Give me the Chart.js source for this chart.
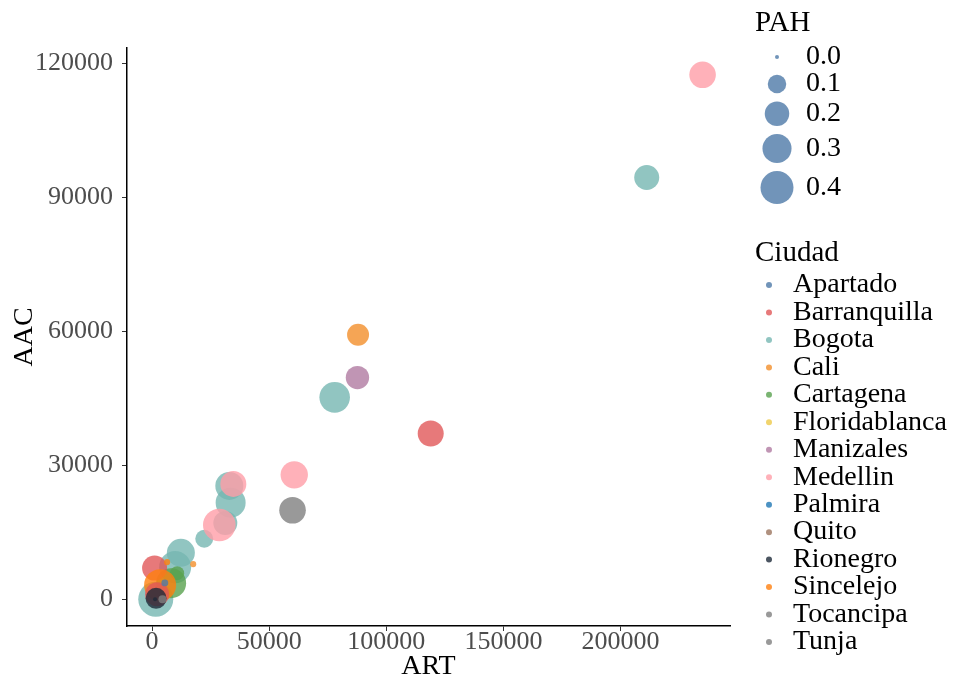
<!DOCTYPE html>
<html>
<head>
<meta charset="utf-8">
<script src="https://cdn.jsdelivr.net/npm/chart.js@4"></script>
<style>
  html, body { margin: 0; padding: 0; background: #fff; }
</style>
</head>
<body>
<canvas id="bubbleChart" width="970" height="679"></canvas>
<script>
// cities in legend order, with base colours
const cities = ["Apartado", "Barranquilla", "Bogota", "Cali", "Cartagena", "Floridablanca", "Manizales",
  "Medellin", "Palmira", "Quito", "Rionegro", "Sincelejo", "Tocancipa", "Tunja"];
const cityColors = ["#4E79A7", "#E15759", "#76B7B2", "#F28E2B", "#59A14F", "#EDC948", "#B07AA1",
  "#FF9DA7", "#1F77B4", "#9C755F", "#1E2B3A", "#FF7F0E", "#7F7F7F", "#7F7F7F"];

// one entry per point, in drawing order (later rows on top)
const pointCity = ["Bogota", "Bogota", "Bogota", "Bogota", "Bogota", "Bogota", "Bogota", "Bogota", "Bogota",
  "Cartagena", "Cartagena", "Medellin", "Medellin", "Medellin", "Medellin",
  "Barranquilla", "Sincelejo", "Barranquilla", "Sincelejo", "Cali", "Cali", "Manizales", "Barranquilla",
  "Tocancipa", "Apartado", "Rionegro", "Rionegro", "Tunja"];
const art = [1580, 9850, 12290, 22270, 31270, 33540, 32980, 77950, 211150,
  8140, 10710, 28700, 34690, 60690, 235000,
  1070, 3430, 2140, 6420, 17560, 87930, 87670, 118940,
  59960, 5440, 1710, 1280, 4450];
const aac = [0, 7190, 10400, 13550, 17080, 21640, 25390, 45230, 94490,
  3600, 5840, 16630, 25840, 27860, 117500,
  6970, 3150, 1120, 8310, 7860, 59250, 49660, 37140,
  19930, 3660, 200, 0, 0];
const pah = [0.458, 0.374, 0.275, 0.093, 0.19, 0.322, 0.275, 0.337, 0.21,
  0.322, 0.048, 0.39, 0.231, 0.261, 0.243,
  0.21, 0.374, 0.19, 0.002, 0.002, 0.154, 0.179, 0.231,
  0.243, 0.004, 0.138, 0.0, 0.008];

const xTicks = [0, 50000, 100000, 150000, 200000];
const yTicks = [0, 30000, 60000, 90000, 120000];
const pahBreaks = [0.0, 0.1, 0.2, 0.3, 0.4];

const ALPHA = 0.8;
function rgba(hex, a) {
  const n = parseInt(hex.slice(1), 16);
  return "rgba(" + (n >> 16) + "," + ((n >> 8) & 255) + "," + (n & 255) + "," + a + ")";
}
function colorOf(city) {
  return rgba(cityColors[cities.indexOf(city)], ALPHA);
}
// size scale: radius grows with sqrt of PAH
function sizeOf(v) {
  return 2 + 22.9 * Math.sqrt(v);
}

const serif = '"Liberation Serif", "Times New Roman", serif';
Chart.defaults.font.family = serif;

// side legends: PAH sizes and Ciudad colours
const sideLegend = {
  id: "sideLegend",
  afterDraw(chart) {
    const ctx = chart.ctx;
    ctx.save();
    ctx.textBaseline = "middle";
    ctx.textAlign = "left";
    ctx.fillStyle = "#000";
    ctx.font = "29px " + serif;
    ctx.fillText("PAH", 755, 23);

    let y = 57 - 13.5;
    ctx.font = "28px " + serif;
    pahBreaks.forEach(function (b) {
      const r = sizeOf(b);
      const h = Math.max(27, 2 * r + 8);
      const cy = y + h / 2;
      ctx.beginPath();
      ctx.arc(777, cy, r, 0, Math.PI * 2);
      ctx.fillStyle = rgba(cityColors[0], ALPHA);
      ctx.fill();
      ctx.fillStyle = "#000";
      ctx.fillText(b.toFixed(1), 806, cy);
      y += h;
    });

    ctx.font = "29px " + serif;
    ctx.fillText("Ciudad", 755, 253);
    ctx.font = "28px " + serif;
    cities.forEach(function (c, i) {
      const cy = 285 + i * 27.46;
      ctx.beginPath();
      ctx.arc(769, cy, 3, 0, Math.PI * 2);
      ctx.fillStyle = colorOf(c);
      ctx.fill();
      ctx.fillStyle = "#000";
      ctx.fillText(c, 793, cy);
    });
    ctx.restore();
  }
};

const tickFont = { size: 26, family: serif };
const ctx = document.getElementById("bubbleChart").getContext("2d");
new Chart(ctx, {
  type: "bubble",
  data: {
    datasets: [{
      data: art.map(function (x, i) { return { x: x, y: aac[i], r: sizeOf(pah[i]) }; }),
      backgroundColor: pointCity.map(colorOf),
      borderWidth: 0,
    }],
  },
  options: {
    responsive: false,
    animation: false,
    events: [],
    layout: { padding: { top: 48, right: 240, left: 0, bottom: 0 } },
    plugins: { legend: { display: false }, tooltip: { enabled: false } },
    scales: {
      x: {
        type: "linear",
        min: -10700,
        max: 246700,
        afterBuildTicks: function (s) { s.ticks = xTicks.map(function (v) { return { value: v }; }); },
        afterFit: function (s) { s.height = 53; },
        ticks: { font: tickFont, color: "#4D4D4D", padding: -4, autoSkip: false, maxRotation: 0,
          callback: function (v) { return String(v); } },
        grid: { drawOnChartArea: false, drawTicks: true, tickLength: 5, color: "#333" },
        border: { display: true, color: "#000", width: 1.5 },
        title: { display: true, text: "ART", color: "#000", font: { size: 28, family: serif },
          padding: { top: 0, bottom: -4 } },
      },
      y: {
        type: "linear",
        min: -6000,
        max: 123500,
        afterBuildTicks: function (s) { s.ticks = yTicks.map(function (v) { return { value: v }; }); },
        afterFit: function (s) { s.width = 127; },
        ticks: { font: tickFont, color: "#4D4D4D", padding: 9, autoSkip: false,
          callback: function (v) { return String(v); } },
        grid: { drawOnChartArea: false, drawTicks: true, tickLength: 5, color: "#333" },
        border: { display: true, color: "#000", width: 1.5 },
        title: { display: true, text: "AAC", color: "#000", font: { size: 28, family: serif },
          padding: { top: 8, bottom: 0 } },
      },
    },
  },
  plugins: [sideLegend],
});
</script>
</body>
</html>
